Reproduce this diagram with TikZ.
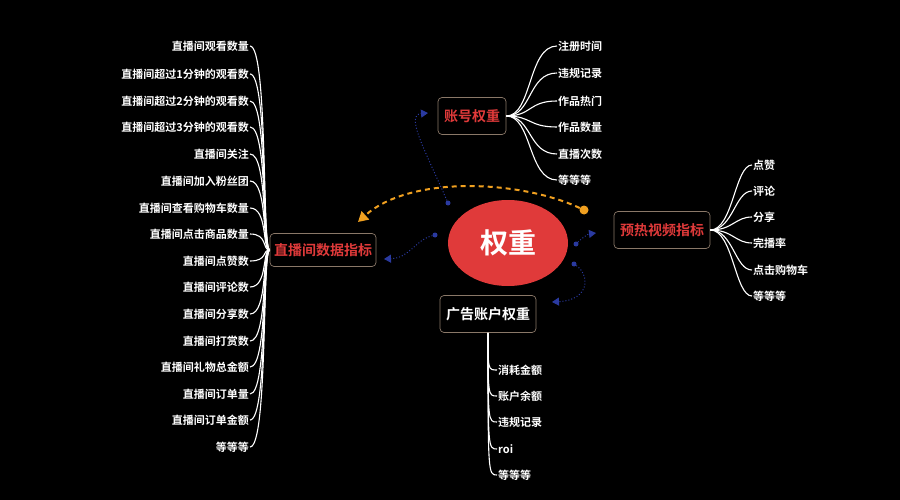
\documentclass[tikz,border=0pt]{standalone}
\usepackage{fontspec}
\setmainfont{Noto Sans CJK SC}[BoldFont={Noto Sans CJK SC Bold}]
\usetikzlibrary{arrows.meta,shapes.geometric}
\definecolor{myred}{HTML}{E03A3A}
\definecolor{bord}{HTML}{8A7868}
\definecolor{myblue}{HTML}{2A3AA0}
\definecolor{myorange}{HTML}{F0A020}
\begin{document}
\begin{tikzpicture}[x=1pt,y=-1pt,
  item/.style={text=white,font=\bfseries\fontsize{11}{12}\selectfont,inner sep=1pt},
  cat/.style={draw=bord,rounded corners=4pt,line width=0.7pt,font=\bfseries\fontsize{14}{16}\selectfont,inner sep=6pt,minimum height=37pt},
  br/.style={white,line width=1.1pt},
  bl/.style={myblue,line width=1pt,dotted,-{Triangle[length=7pt,width=8pt]}},
  bdot/.style={fill=myblue,circle,inner sep=0,minimum size=5pt}]
\fill[black] (0,0) rectangle (900,500);
\useasboundingbox (0,0) rectangle (900,500);
\node[ellipse,fill=myred,minimum width=120pt,minimum height=86pt,inner sep=0,text=white,font=\bfseries\fontsize{28}{30}\selectfont] (c) at (508,243) {权重};
\node[cat,text=myred] (acc) at (472,116) {账号权重};
\node[cat,text=myred,minimum height=33pt,inner sep=4pt] (live) at (323,250) {直播间数据指标};
\node[cat,text=myred] (vid) at (662,230) {预热视频指标};
\node[cat,text=white] (ad) at (488,314) {广告账户权重};
% account items
\foreach \t/\y [count=\i] in {注册时间/46,违规记录/73,作品热门/101,作品数量/127,直播次数/154,等等等/180}{
  \node[item,anchor=west] (a\i) at (557,\y) {\t};
  \draw[br] (acc.east) .. controls (532,116) and (528,\y) .. (a\i.west);
}
% live items
\foreach \t/\y [count=\i] in {直播间观看数量/46,直播间超过1分钟的观看数/74,直播间超过2分钟的观看数/101,直播间超过3分钟的观看数/127,直播间关注/154,直播间加入粉丝团/181,直播间查看购物车数量/208,直播间点击商品数量/234,直播间点赞数/261,直播间评论数/287,直播间分享数/314,直播间打赏数/341,直播间礼物总金额/367,直播间订单量/394,直播间订单金额/420,等等等/447}{
  \node[item,anchor=east] (l\i) at (250,\y) {\t};
  \draw[br] (live.west) .. controls (262,250) and (268,\y) .. (l\i.east);
}
% video items
\foreach \t/\y [count=\i] in {点赞/165,评论/191,分享/217,完播率/243,点击购物车/270,等等等/296}{
  \node[item,anchor=west] (v\i) at (752,\y) {\t};
  \draw[br] (vid.east) .. controls (733,230) and (735,\y) .. (v\i.west);
}
% ad items
\foreach \t/\y [count=\i] in {消耗金额/370,账户余额/396,违规记录/422,roi/449,等等等/475}{
  \node[item,anchor=west] (d\i) at (497,\y) {\t};
  \draw[br] (ad.south) .. controls (488,\y) and (488,\y) .. (d\i.west);
}
% blue dotted connectors
\node[bdot] (p1) at (448,203) {};
\node[bdot] (p2) at (435,235) {};
\node[bdot] (p3) at (576,244) {};
\node[bdot] (p4) at (574,264) {};
\coordinate (t1) at (428,113);
\coordinate (t2) at (384,259);
\coordinate (t3) at (596,233);
\coordinate (t4) at (552,302);
\draw[bl] (p1) .. controls (425,150) and (405,115) .. (t1);
\draw[bl] (p2) .. controls (415,240) and (410,258) .. (t2);
\draw[bl] (p3) .. controls (582,238) and (588,234) .. (t3);
\draw[bl] (p4) .. controls (590,275) and (590,300) .. (t4);
% orange dashed
\node[fill=myorange,circle,inner sep=0,minimum size=9pt] (o1) at (584,210) {};
\coordinate (o2) at (358,222);
\draw[myorange,line width=2pt,dash pattern=on 5pt off 4pt,-{Triangle[length=10pt,width=11pt]}] (o1) .. controls (520,180) and (410,175) .. (o2);
\end{tikzpicture}
\end{document}
